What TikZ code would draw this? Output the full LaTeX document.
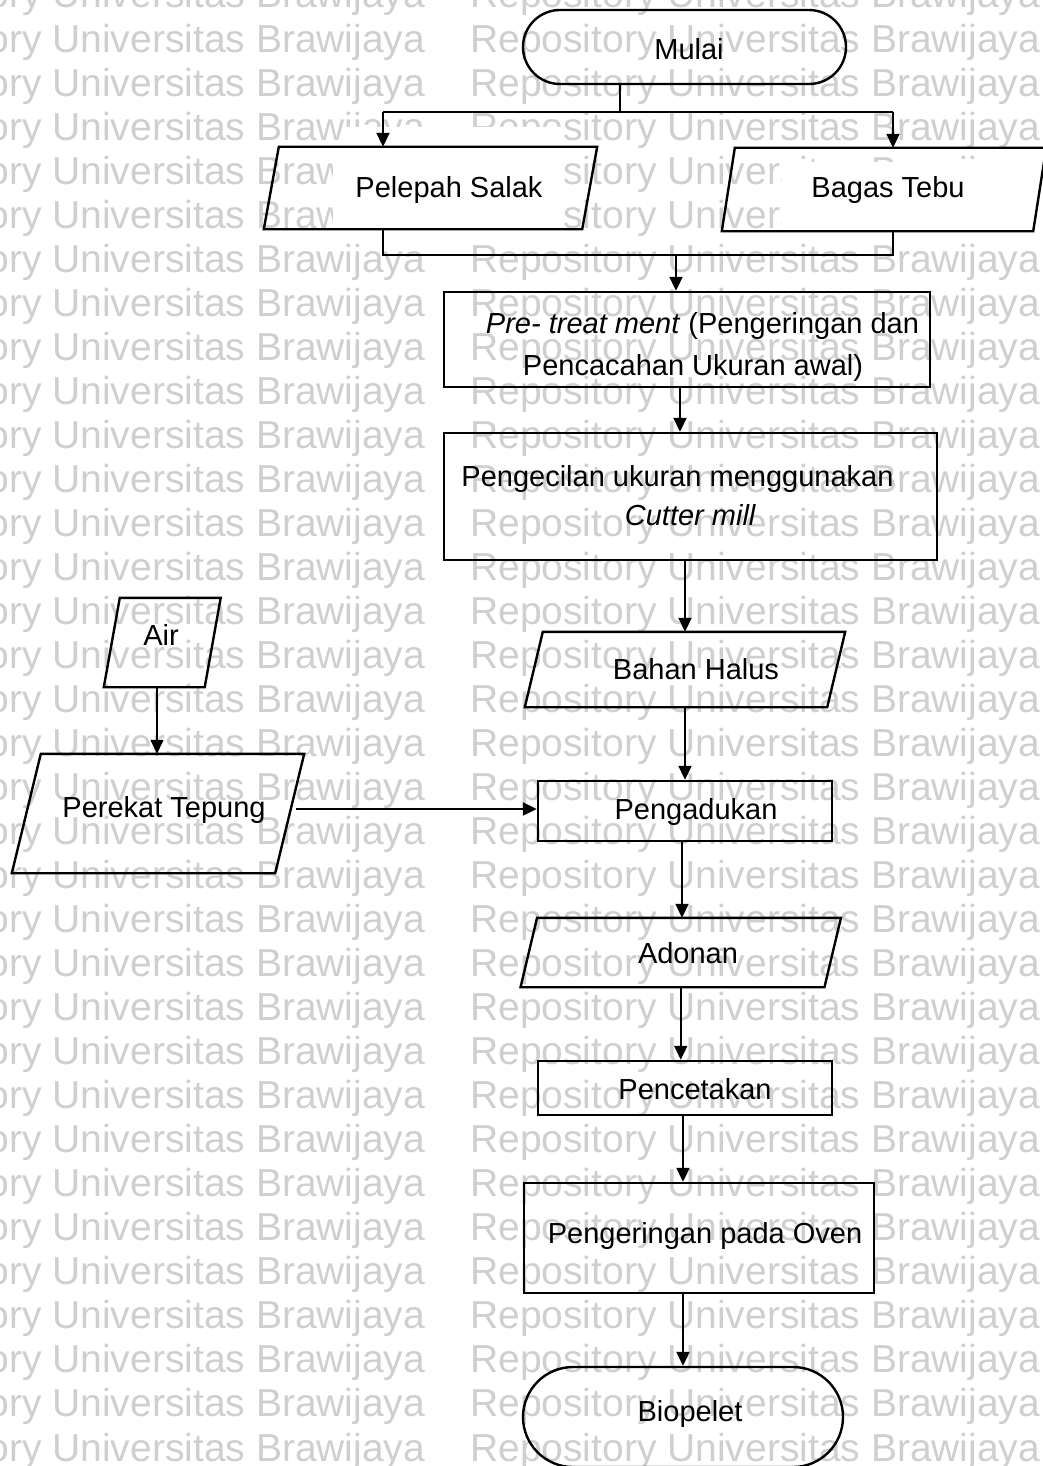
\documentclass[tikz,border=0pt]{standalone}
\usepackage{fontspec}
\setmainfont{Liberation Sans}
\usetikzlibrary{arrows.meta}

\tikzset{
  outline/.style={draw=black, line width=2.4pt},
  procbox/.style={outline, rectangle, inner sep=0pt},
  termbox/.style={outline, rectangle, inner sep=0pt},
  slantframe/.style={draw=none, rectangle, inner sep=0pt},
  lbl/.style={inner sep=0pt, anchor=base, font=\fontsize{29}{34}\selectfont},
  link/.style={line width=2pt},
  flow/.style={line width=2pt, -{Triangle[width=13pt,length=14pt]}},
  wm/.style={inner sep=0pt, anchor=base west, text=black!19, font=\fontsize{39}{39}\selectfont}
}

% parallelogram (input/output) drawn over an invisible frame node
\newcommand\leanframe[2]{%
  \draw[outline] ([xshift=#2]#1.north west) -- ([xshift=#2]#1.north east)
    -- ([xshift=-#2]#1.south east) -- ([xshift=-#2]#1.south west) -- cycle;}

\begin{document}
\begin{tikzpicture}[x=1pt, y=-1pt]
\useasboundingbox (0,0) rectangle (1043,1466);

% repository watermark
\begin{scope}
  \clip (0,0) rectangle (1043,1466);
  \foreach \k in {0,...,33} {
    \node[wm] (wmL\k) at (-145, {8+44.03*\k}) {Repository Universitas Brawijaya};
    \node[wm] (wmR\k) at (470, {8+44.03*\k}) {Repository Universitas Brawijaya};
  }
  \fill[white] (345,127) -- (563,127) -- (563,240) -- (333,240) -- (333,150) -- (345,150) -- cycle;
  \fill[white] (782,162) rectangle (1043,240);
\end{scope}

% start
\node[termbox, minimum width=323pt, minimum height=74pt, rounded corners=37pt] (mulai) at (684.5,47) {};
\node[lbl] (mulaiT) at (689,60) {Mulai};

% raw materials
\node[slantframe, minimum width=318pt, minimum height=82pt] (pel) at (430.5,188) {};
\leanframe{pel}{7.5pt}
\node[lbl] (pelT) at (449,197) {Pelepah Salak};

\node[slantframe, minimum width=311pt, minimum height=83pt] (bag) at (884,189.5) {};
\leanframe{bag}{6.5pt}
\node[lbl] (bagT) at (888,197) {Bagas Tebu};

% processing steps
\node[procbox, minimum width=486pt, minimum height=95pt] (pre) at (687,339.5) {};
\node[lbl] (preA) at (702.5,333) {\textit{Pre- treat ment} (Pengeringan dan};
\node[lbl] (preB) at (693,375) {Pencacahan Ukuran awal)};

\node[procbox, minimum width=493pt, minimum height=127pt] (cil) at (690.5,496.5) {};
\node[lbl] (cilA) at (677.5,486) {Pengecilan ukuran menggunakan};
\node[lbl] (cilB) at (690.5,525) {\textit{Cutter mill}};

\node[slantframe, minimum width=302pt, minimum height=75pt] (hal) at (685,669.5) {};
\leanframe{hal}{9pt}
\node[lbl] (halT) at (696,679) {Bahan Halus};

% binder
\node[slantframe, minimum width=100.5pt, minimum height=89pt] (air) at (162.25,642.5) {};
\leanframe{air}{8pt}
\node[lbl] (airT) at (161,645) {Air};

\node[slantframe, minimum width=263pt, minimum height=119pt] (rek) at (158,813.5) {};
\leanframe{rek}{14.5pt}
\node[lbl] (rekT) at (164,817) {Perekat Tepung};

\node[procbox, minimum width=294pt, minimum height=60pt] (aduk) at (685,811) {};
\node[lbl] (adukT) at (696,819) {Pengadukan};

\node[slantframe, minimum width=303.5pt, minimum height=69pt] (ado) at (680.75,952.5) {};
\leanframe{ado}{8.25pt}
\node[lbl] (adoT) at (688,963) {Adonan};

\node[procbox, minimum width=294pt, minimum height=54pt] (cetak) at (685,1088) {};
\node[lbl] (cetakT) at (695,1099) {Pencetakan};

\node[procbox, minimum width=350pt, minimum height=110pt] (oven) at (699,1238) {};
\node[lbl] (ovenT) at (705,1243) {Pengeringan pada Oven};

% end
\node[termbox, minimum width=320pt, minimum height=100pt, rounded corners=50pt] (bio) at (683,1417) {};
\node[lbl] (bioT) at (690,1421) {Biopelet};

% connectors
\coordinate (split) at (620,112);
\coordinate (brL) at (383,112);
\coordinate (brR) at (893,112);
\draw[link] (mulai.south -| split) -- (split);
\draw[link] (brL) -- (brR);
\draw[flow] (brL) -- (brL |- pel.north);
\draw[flow] (brR) -- (brR |- bag.north);

\coordinate (mgL) at (383,255);
\coordinate (mgR) at (893,255);
\coordinate (mgC) at (676,255);
\draw[link] (pel.south -| mgL) -- (mgL) -- (mgR) -- (bag.south -| mgR);
\draw[flow] (mgC) -- (mgC |- pre.north);

\draw[flow] ([xshift=-7pt]pre.south) -- ([xshift=-7pt]pre.south |- cil.north);
\draw[flow] ([xshift=-5.5pt]cil.south) -- ([xshift=-5.5pt]cil.south |- hal.north);
\draw[flow] (hal.south) -- (hal.south |- aduk.north);
\draw[flow, line width=1.4pt] ([xshift=-5.25pt]air.south) -- ([xshift=-5.25pt]air.south |- rek.north);
\coordinate (rekOut) at ([xshift=6pt, yshift=4.5pt]rek.east);
\draw[flow] (rekOut) -- (rekOut -| aduk.west);
\draw[flow] ([xshift=-3pt]aduk.south) -- ([xshift=-3pt]aduk.south |- ado.north);
\draw[flow] (ado.south) -- (ado.south |- cetak.north);
\draw[flow] ([xshift=-2pt]cetak.south) -- ([xshift=-2pt]cetak.south |- oven.north);
\draw[flow] ([xshift=-16pt]oven.south) -- ([xshift=-16pt]oven.south |- bio.north);
\end{tikzpicture}
\end{document}
